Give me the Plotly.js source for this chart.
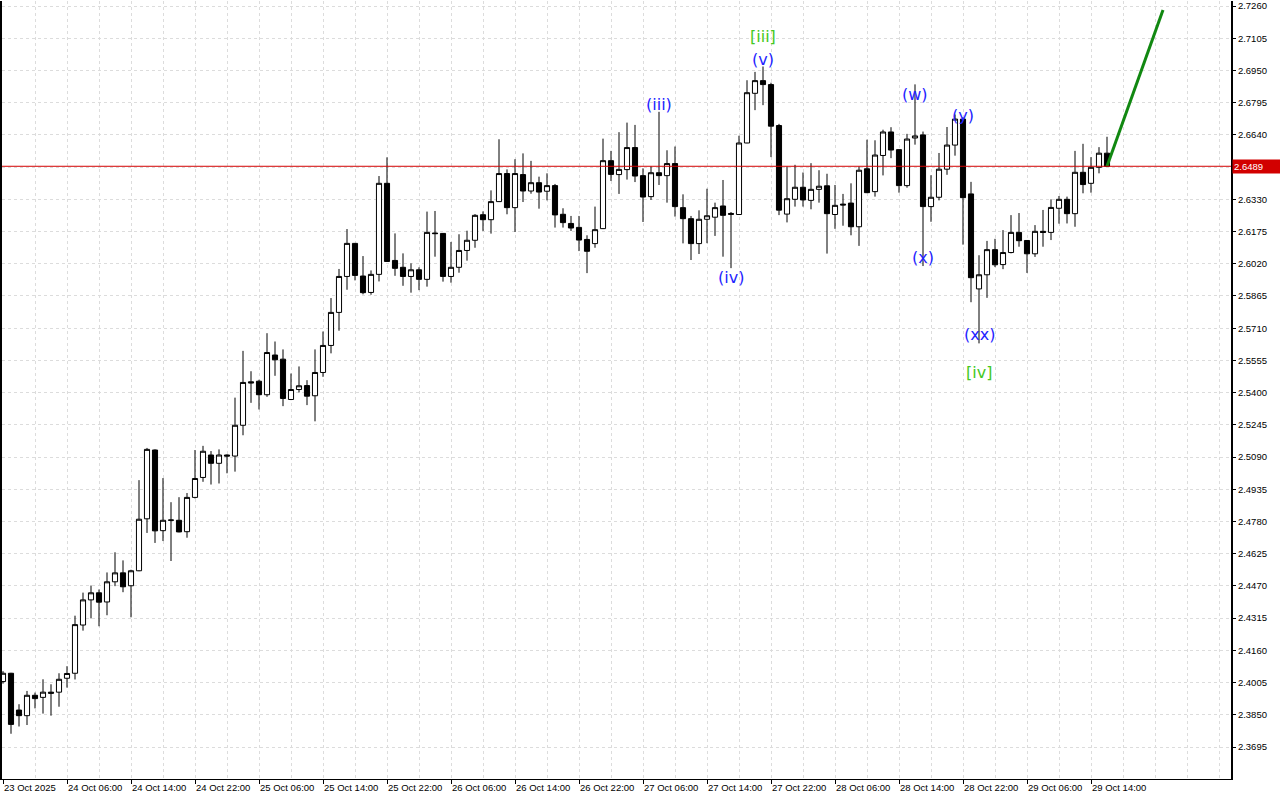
<!DOCTYPE html>
<html>
<head>
<meta charset="utf-8">
<script src="https://cdn.plot.ly/plotly-3.0.1.min.js"></script>
<style>
  html, body { margin: 0; padding: 0; background: #ffffff; }
  #chart { width: 1280px; height: 800px; }
</style>
</head>
<body>
<div id="chart"></div>
<script>
// ---------- DATA (hourly candles) ----------
const startTime = '2025-10-23 22:00';   // first candle
const openVals = [
  2.4010,2.4050,2.3873,2.3846,2.3944,2.3934,2.3959,2.3959,2.4026,2.4050,
  2.4282,2.4403,2.4437,2.4393,2.4490,2.4533,2.4471,2.4543,2.4793,2.5124,
  2.4736,2.4786,2.4786,2.4731,2.4896,2.4992,2.5100,2.5060,2.5100,2.5095,
  2.5243,2.5452,2.5455,2.5390,2.5581,2.5561,2.5367,2.5415,2.5434,2.5385,
  2.5497,2.5627,2.5786,2.5959,2.6118,2.5961,2.5882,2.5969,2.6407,2.6036,
  2.6003,2.5959,2.5991,2.5945,2.6168,2.6166,2.5959,2.6003,2.6084,2.6133,
  2.6256,2.6232,2.6319,2.6454,2.6290,2.6449,2.6370,2.6410,2.6369,2.6396,
  2.6258,2.6214,2.6195,2.6137,2.6117,2.6189,2.6516,2.6449,2.6473,2.6579,
  2.6444,2.6343,2.6458,2.6444,2.6502,2.6290,2.6237,2.6117,2.6234,2.6244,
  2.6298,2.6262,2.6257,2.6601,2.6840,2.6901,2.6882,2.6685,2.6259,2.6330,
  2.6388,2.6325,2.6378,2.6395,2.6257,2.6307,2.6312,2.6198,2.6477,2.6367,
  2.6541,2.6654,2.6569,2.6396,2.6625,2.6640,2.6295,2.6340,2.6475,2.6591,
  2.6716,2.6356,2.5899,2.5967,2.6088,2.6016,2.6074,2.6171,2.6132,2.6068,
  2.6176,2.6171,2.6287,2.6330,2.6261,2.6460,2.6407,2.6484,2.6552
];
const highVals = [
  2.4060,2.4052,2.3901,2.3965,2.3957,2.4021,2.3997,2.4050,2.4084,2.4327,
  2.4438,2.4472,2.4453,2.4535,2.4632,2.4593,2.4548,2.4979,2.5134,2.5127,
  2.4989,2.4873,2.4897,2.4917,2.5124,2.5144,2.5119,2.5127,2.5103,2.5376,
  2.5601,2.5503,2.5462,2.5686,2.5646,2.5608,2.5492,2.5526,2.5460,2.5608,
  2.5694,2.5855,2.5995,2.6187,2.6120,2.6057,2.5988,2.6442,2.6532,2.6166,
  2.6070,2.6022,2.6003,2.6271,2.6274,2.6168,2.6125,2.6162,2.6179,2.6259,
  2.6272,2.6373,2.6619,2.6474,2.6523,2.6551,2.6515,2.6439,2.6455,2.6404,
  2.6287,2.6250,2.6250,2.6157,2.6295,2.6622,2.6563,2.6653,2.6699,2.6688,
  2.6479,2.6489,2.6751,2.6566,2.6584,2.6354,2.6250,2.6277,2.6381,2.6314,
  2.6423,2.6269,2.6636,2.6903,2.6943,2.6969,2.6891,2.6693,2.6488,2.6496,
  2.6459,2.6504,2.6470,2.6453,2.6399,2.6356,2.6407,2.6488,2.6617,2.6614,
  2.6665,2.6677,2.6570,2.6645,2.6883,2.6656,2.6446,2.6553,2.6678,2.6738,
  2.6725,2.6414,2.6061,2.6130,2.6140,2.6182,2.6254,2.6264,2.6133,2.6206,
  2.6279,2.6330,2.6346,2.6343,2.6563,2.6597,2.6533,2.6581,2.6631
];
const lowVals = [
  2.4000,2.3759,2.3794,2.3801,2.3881,2.3856,2.3846,2.3889,2.3981,2.4020,
  2.4255,2.4314,2.4276,2.4329,2.4469,2.4440,2.4319,2.4541,2.4725,2.4677,
  2.4686,2.4590,2.4728,2.4702,2.4891,2.4971,2.4958,2.4963,2.5012,2.5020,
  2.5195,2.5351,2.5319,2.5380,2.5481,2.5335,2.5364,2.5401,2.5340,2.5262,
  2.5476,2.5589,2.5698,2.5895,2.5940,2.5873,2.5871,2.5935,2.6030,2.5962,
  2.5914,2.5881,2.5893,2.5910,2.6054,2.5934,2.5929,2.5977,2.6035,2.6097,
  2.6178,2.6165,2.6317,2.6258,2.6173,2.6317,2.6357,2.6285,2.6325,2.6194,
  2.6194,2.6178,2.6081,2.5975,2.6097,2.6187,2.6418,2.6356,2.6425,2.6413,
  2.6221,2.6327,2.6399,2.6314,2.6247,2.6118,2.6038,2.6067,2.6119,2.6154,
  2.6054,2.5999,2.6255,2.6600,2.6759,2.6783,2.6533,2.6254,2.6219,2.6295,
  2.6295,2.6282,2.6314,2.6069,2.6188,2.6203,2.6157,2.6106,2.6360,2.6343,
  2.6445,2.6528,2.6362,2.6386,2.6593,2.6009,2.6222,2.6325,2.6448,2.6540,
  2.6112,2.5835,2.5637,2.5856,2.6004,2.5994,2.6070,2.6102,2.5976,2.6053,
  2.6102,2.6134,2.6213,2.6214,2.6198,2.6359,2.6362,2.6455,2.6487
];
const closeVals = [
  2.4050,2.3804,2.3846,2.3944,2.3928,2.3959,2.3954,2.4021,2.4049,2.4284,
  2.4403,2.4437,2.4392,2.4490,2.4533,2.4466,2.4543,2.4791,2.5127,2.4735,
  2.4786,2.4787,2.4730,2.4896,2.4987,2.5118,2.5060,2.5100,2.5095,2.5243,
  2.5449,2.5447,2.5390,2.5593,2.5558,2.5372,2.5415,2.5433,2.5383,2.5497,
  2.5627,2.5786,2.5959,2.6118,2.5964,2.5881,2.5969,2.6407,2.6031,2.5998,
  2.5959,2.5991,2.5945,2.6171,2.6165,2.5959,2.6003,2.6084,2.6133,2.6253,
  2.6232,2.6319,2.6454,2.6290,2.6454,2.6370,2.6410,2.6365,2.6396,2.6255,
  2.6218,2.6192,2.6134,2.6080,2.6184,2.6516,2.6450,2.6474,2.6579,2.6442,
  2.6341,2.6458,2.6444,2.6502,2.6295,2.6237,2.6117,2.6234,2.6251,2.6290,
  2.6253,2.6258,2.6601,2.6843,2.6901,2.6882,2.6682,2.6278,2.6333,2.6388,
  2.6327,2.6378,2.6393,2.6261,2.6301,2.6303,2.6198,2.6470,2.6362,2.6543,
  2.6654,2.6567,2.6396,2.6620,2.6635,2.6295,2.6340,2.6475,2.6591,2.6716,
  2.6338,2.5953,2.5967,2.6088,2.6015,2.6074,2.6171,2.6131,2.6068,2.6176,
  2.6171,2.6291,2.6330,2.6261,2.6460,2.6401,2.6484,2.6552,2.6489
];
const currentPrice = 2.6489;
const forecastTimes = ['2025-10-29 16:00', '2025-10-29 23:00'];
const forecastVals = [2.6489, 2.7241];

const priceTicks = [2.3695,2.3850,2.4005,2.4160,2.4315,2.4470,2.4625,2.4780,2.4935,2.5090,
                    2.5245,2.5400,2.5555,2.5710,2.5865,2.6020,2.6175,2.6330,2.6485,2.6640,
                    2.6795,2.6950,2.7105,2.7260];
// the 2.6485 label is covered by the current-price box in the reference
const priceTickText = ['2.3695','2.3850','2.4005','2.4160','2.4315','2.4470','2.4625','2.4780',
                       '2.4935','2.5090','2.5245','2.5400','2.5555','2.5710','2.5865','2.6020',
                       '2.6175','2.6330','','2.6640','2.6795','2.6950','2.7105','2.7260'];
const timeTickVals = ['2025-10-23 22:00','2025-10-24 06:00','2025-10-24 14:00','2025-10-24 22:00',
  '2025-10-25 06:00','2025-10-25 14:00','2025-10-25 22:00','2025-10-26 06:00','2025-10-26 14:00',
  '2025-10-26 22:00','2025-10-27 06:00','2025-10-27 14:00','2025-10-27 22:00','2025-10-28 06:00',
  '2025-10-28 14:00','2025-10-28 22:00','2025-10-29 06:00','2025-10-29 14:00'];
const timeTickText = ['23 Oct 2025','24 Oct 06:00','24 Oct 14:00','24 Oct 22:00','25 Oct 06:00',
  '25 Oct 14:00','25 Oct 22:00','26 Oct 06:00','26 Oct 14:00','26 Oct 22:00','27 Oct 06:00',
  '27 Oct 14:00','27 Oct 22:00','28 Oct 06:00','28 Oct 14:00','28 Oct 22:00','29 Oct 06:00',
  '29 Oct 14:00'];

const waveText  = ['[iii]','(v)','(iii)','(iv)','(w)','(x)','(y)','(xx)','[iv]'];
const waveBar   = [95, 95, 82, 91, 114, 115, 120, 122, 122];
const waveAtTop = [true, true, true, false, true, false, true, false, false];

// ---------- styling / placement ----------
const waveShift = [30, 7, 7, -9.5, -10, 8.5, 2, 8.5, -29];
const waveColor = ['#44c822','#2424ff','#2424ff','#2424ff','#2424ff','#2424ff','#2424ff','#2424ff','#44c822'];

function pad(n){ return (n < 10 ? '0' : '') + n; }
function hourlyTimes(start, n){
  const p = start.split(/[- :]/).map(Number);
  const base = Date.UTC(p[0], p[1]-1, p[2], p[3], p[4]);
  const out = [];
  for (let i = 0; i < n; i++){
    const d = new Date(base + i*3600000);
    out.push(d.getUTCFullYear()+'-'+pad(d.getUTCMonth()+1)+'-'+pad(d.getUTCDate())+' '+pad(d.getUTCHours())+':00');
  }
  return out;
}
const times = hourlyTimes(startTime, closeVals.length);
const gridTimes = hourlyTimes(startTime, 40*4).filter((t, i) => i % 4 === 0);

const candles = {
  type: 'candlestick',
  x: times, open: openVals, high: highVals, low: lowVals, close: closeVals,
  increasing: { line: { color: '#000000', width: 1 }, fillcolor: '#ffffff' },
  decreasing: { line: { color: '#000000', width: 1 }, fillcolor: '#000000' },
  whiskerwidth: 0,
  hoverinfo: 'skip',
  showlegend: false
};
const forecast = {
  type: 'scatter', mode: 'lines',
  x: forecastTimes, y: forecastVals,
  line: { color: '#118811', width: 3 },
  hoverinfo: 'skip', showlegend: false
};

const annotations = waveText.map((t, k) => ({
  x: times[waveBar[k]],
  y: waveAtTop[k] ? highVals[waveBar[k]] : lowVals[waveBar[k]],
  xref: 'x', yref: 'y',
  text: t, showarrow: false,
  xanchor: 'center', yanchor: 'middle',
  yshift: waveShift[k],
  font: { family: 'DejaVu Sans', size: 16, color: waveColor[k] }
}));
annotations.push({
  xref: 'paper', x: 1, xanchor: 'left', xshift: 1,
  yref: 'y', y: currentPrice, yanchor: 'middle',
  text: currentPrice.toFixed(4), showarrow: false,
  bgcolor: '#d20000', borderpad: 1, width: 46, height: 11, align: 'left',
  font: { family: 'Liberation Sans', size: 9.5, color: '#ffffff' }
});

const gridStyle = { gridcolor: '#dcdcdc', griddash: '3px,3px', gridwidth: 1 };

const layout = {
  width: 1280, height: 800,
  margin: { l: 2, r: 49, t: 1, b: 21 },
  paper_bgcolor: '#ffffff', plot_bgcolor: '#ffffff',
  boxgap: 0.2, boxgroupgap: 0.2,
  showlegend: false,
  font: { family: 'Liberation Sans', size: 9.5, color: '#000000' },
  xaxis: Object.assign({
    type: 'date',
    range: ['2025-10-23 21:52:30', '2025-10-30 07:30'],
    rangeslider: { visible: false },
    tickmode: 'array', tickvals: timeTickVals, ticktext: timeTickText,
    ticks: 'outside', ticklen: 4, tickcolor: '#000000', tickwidth: 1,
    ticklabelposition: 'outside right',
    showgrid: true,
    showline: true, linecolor: '#000000', linewidth: 1,
    zeroline: false, fixedrange: true,
    minor: Object.assign({ tickmode: 'array', tickvals: gridTimes, showgrid: true, ticks: '' }, gridStyle),
    tickfont: { family: 'Liberation Sans', size: 9.5, color: '#000000' }
  }, gridStyle),
  yaxis: Object.assign({
    side: 'right',
    range: [2.35413, 2.72841],
    tickmode: 'array', tickvals: priceTicks, ticktext: priceTickText,
    ticks: 'outside', ticklen: 3, tickcolor: '#000000', tickwidth: 1,
    showgrid: true,
    showline: true, linecolor: '#000000', linewidth: 2, mirror: true,
    zeroline: false, fixedrange: true,
    tickfont: { family: 'Liberation Sans', size: 9.5, color: '#000000' }
  }, gridStyle),
  shapes: [{
    type: 'line', xref: 'paper', x0: 0, x1: 1, yref: 'y', y0: currentPrice, y1: currentPrice,
    line: { color: '#d20000', width: 1 }, layer: 'above'
  }],
  annotations: annotations
};

Plotly.newPlot('chart', [candles, forecast], layout, { displayModeBar: false, staticPlot: true });
</script>
</body>
</html>
